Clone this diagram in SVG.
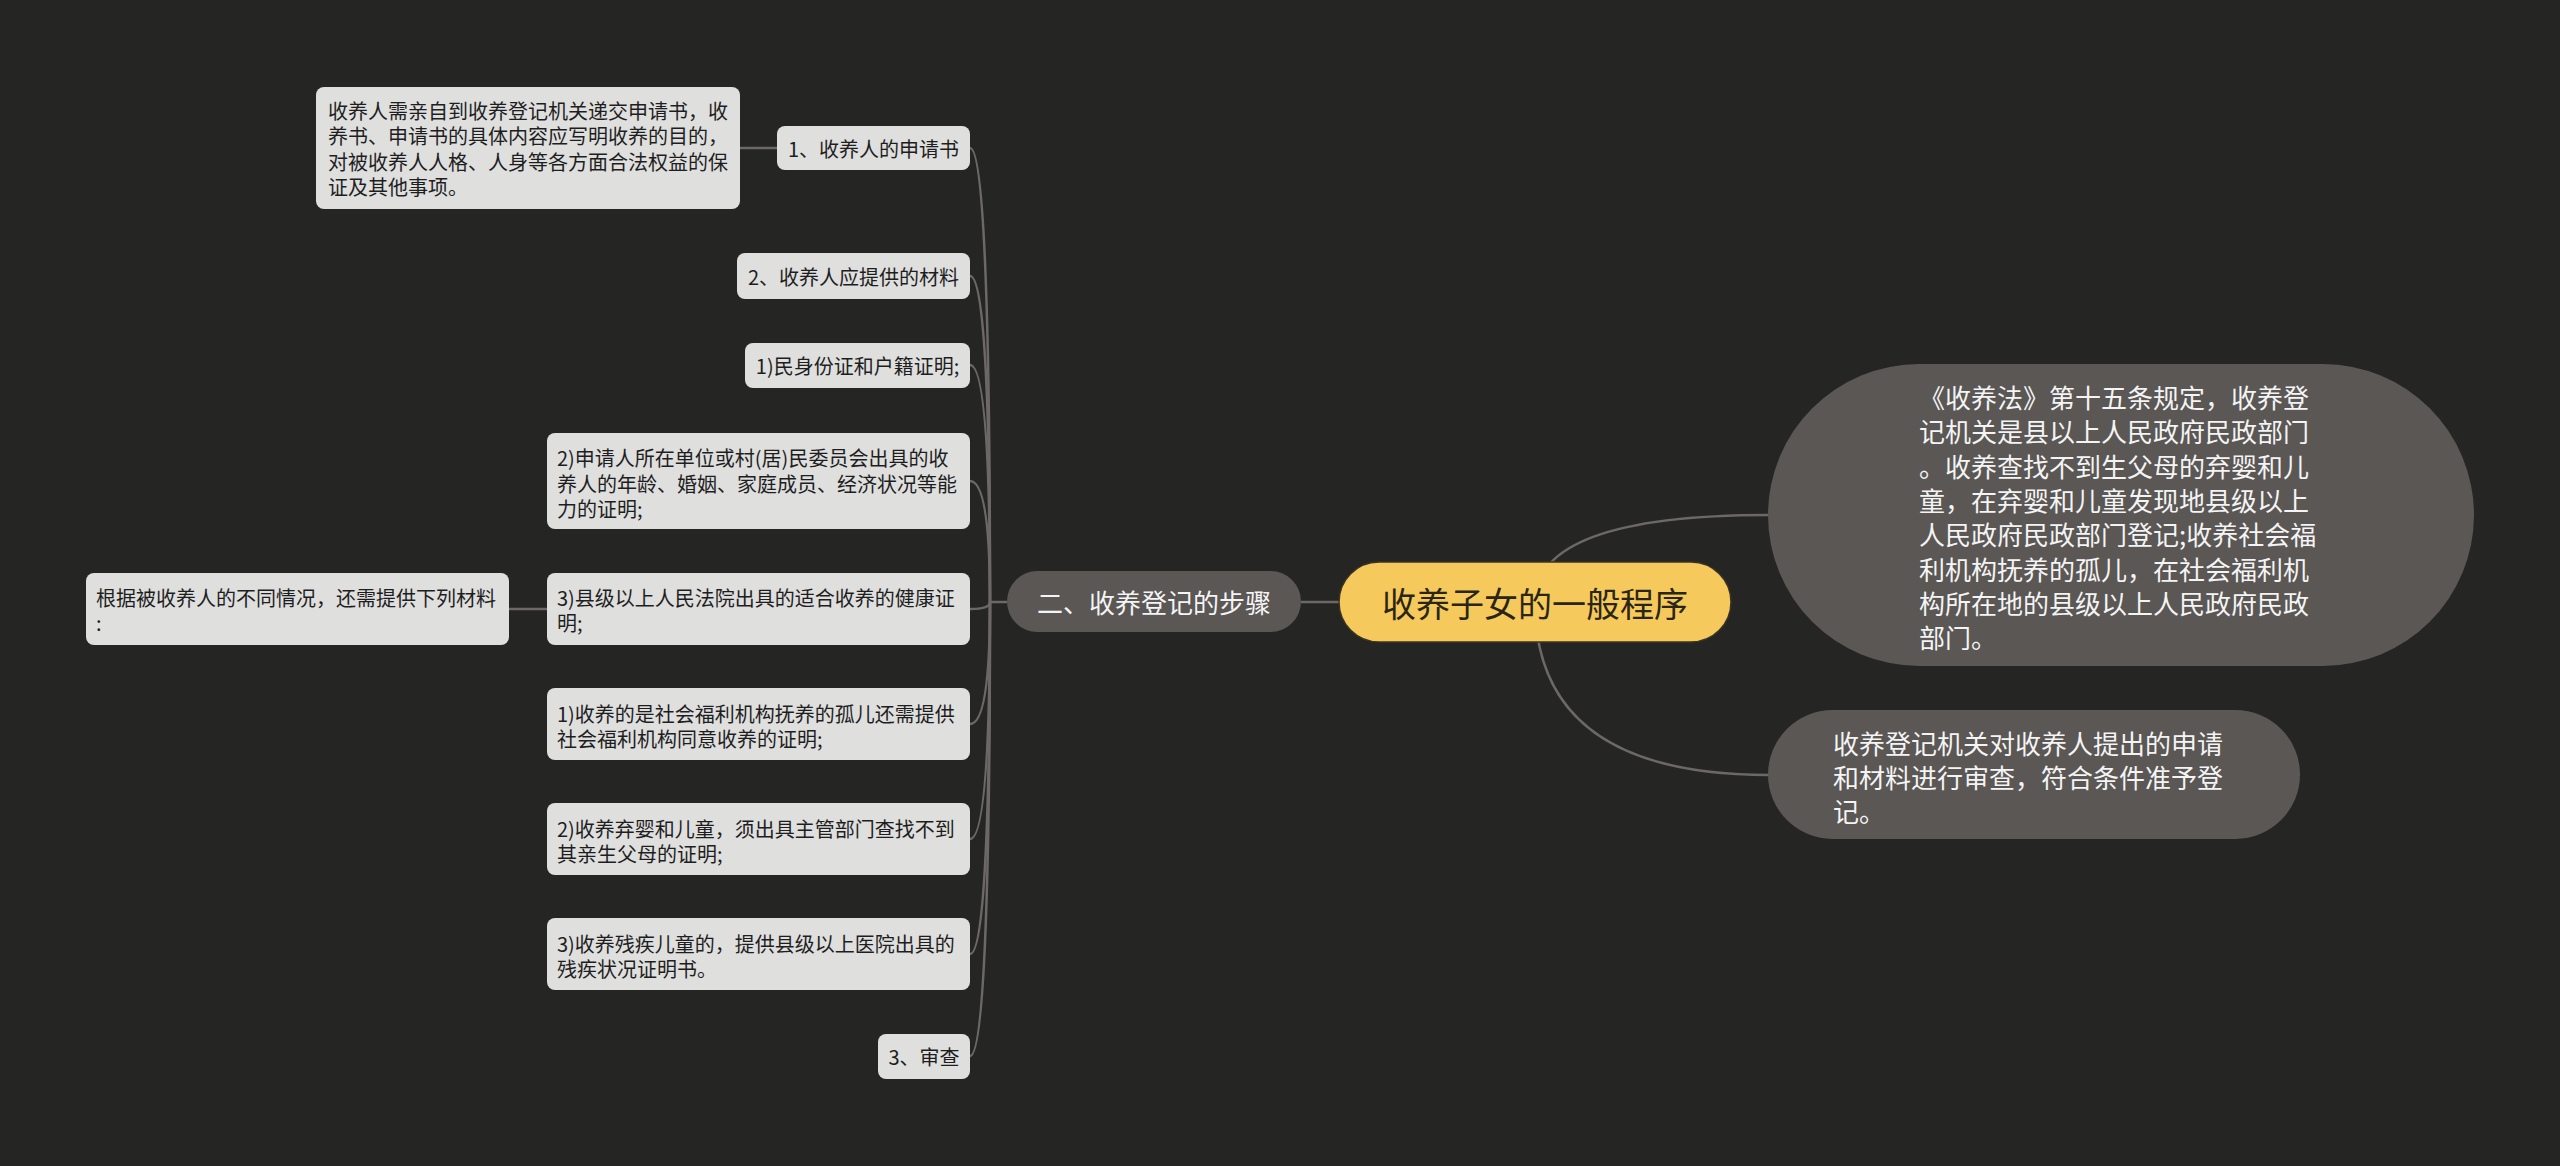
<svg xmlns="http://www.w3.org/2000/svg" width="2560" height="1166" viewBox="0 0 2560 1166">
<style>
text{font-family:"Noto Sans CJK SC","Noto Sans",sans-serif;dominant-baseline:central}
.light{fill:#dfdfde}
.lt{font-size:20px;fill:#1e1e1e}
.dark{fill:#5a5755}
.dt{font-size:26px;fill:#f4f4f4}
.ct{font-size:34px;fill:#2a2515}
.mid{text-anchor:middle}
.conn path{stroke:#6b6865;stroke-width:2.5;fill:none}
</style>
<rect x="0" y="0" width="2560" height="1166" fill="#252524"/>
<g class="conn" id="connectors">
<path d="M1339 602 L1301 602"/>
<path d="M1535 602 Q1535 515 1769 515"/>
<path d="M1535 602 Q1535 775 1769 775"/>
<path d="M1007 602 L990 602"/>
<path d="M990 602 Q990 148 970 148"/>
<path d="M990 602 Q990 276 970 276"/>
<path d="M990 602 Q990 365 970 365"/>
<path d="M990 602 Q990 481 970 481"/>
<path d="M990 602 Q990 609 970 609"/>
<path d="M990 602 Q990 724 970 724"/>
<path d="M990 602 Q990 839 970 839"/>
<path d="M990 602 Q990 954 970 954"/>
<path d="M990 602 Q990 1056 970 1056"/>
<path d="M777 148 L740 148"/>
<path d="M547 609 L509 609"/>
</g>
<g id="root">
<rect x="1339" y="562" width="392" height="80" rx="40" fill="#f5c95b" stroke="#3a3426" stroke-width="1.5"/>
<text class="ct mid" x="1535" y="602">收养子女的一般程序</text>
</g>
<g id="r1">
<rect class="dark" x="1768" y="364" width="706" height="302" rx="151"/>
<text class="dt" x="1919"><tspan x="1919" y="396">《收养法》第十五条规定，收养登</tspan><tspan x="1919" y="430.3">记机关是县以上人民政府民政部门</tspan><tspan x="1919" y="464.6">。收养查找不到生父母的弃婴和儿</tspan><tspan x="1919" y="498.9">童，在弃婴和儿童发现地县级以上</tspan><tspan x="1919" y="533.2">人民政府民政部门登记;收养社会福</tspan><tspan x="1919" y="567.5">利机构抚养的孤儿，在社会福利机</tspan><tspan x="1919" y="601.8">构所在地的县级以上人民政府民政</tspan><tspan x="1919" y="636.1">部门。</tspan></text>
</g>
<g id="r2">
<rect class="dark" x="1768" y="710" width="532" height="129" rx="64.5"/>
<text class="dt" x="1833"><tspan x="1833" y="742">收养登记机关对收养人提出的申请</tspan><tspan x="1833" y="776">和材料进行审查，符合条件准予登</tspan><tspan x="1833" y="810">记。</tspan></text>
</g>
<g id="l1">
<rect class="dark" x="1007" y="571" width="294" height="61" rx="30.5"/>
<text class="dt mid" x="1154" y="601.5">二、收养登记的步骤</text>
</g>
<g id="n1">
<rect class="light" x="777" y="126" width="193" height="44" rx="8"/>
<text class="lt mid" x="873.5" y="148">1、收养人的申请书</text>
</g>
<g id="n1a">
<rect class="light" x="316" y="87" width="424" height="122" rx="8"/>
<text class="lt" x="328"><tspan x="328" y="109.75">收养人需亲自到收养登记机关递交申请书，收</tspan><tspan x="328" y="135.25">养书、申请书的具体内容应写明收养的目的，</tspan><tspan x="328" y="160.75">对被收养人人格、人身等各方面合法权益的保</tspan><tspan x="328" y="186.25">证及其他事项。</tspan></text>
</g>
<g id="n2">
<rect class="light" x="737" y="253" width="233" height="46" rx="8"/>
<text class="lt mid" x="853.5" y="276">2、收养人应提供的材料</text>
</g>
<g id="n3">
<rect class="light" x="745" y="343" width="225" height="45" rx="8"/>
<text class="lt mid" x="857.5" y="365.5">1)民身份证和户籍证明;</text>
</g>
<g id="n4">
<rect class="light" x="547" y="433" width="423" height="96" rx="8"/>
<text class="lt" x="557"><tspan x="557" y="457">2)申请人所在单位或村(居)民委员会出具的收</tspan><tspan x="557" y="482.5">养人的年龄、婚姻、家庭成员、经济状况等能</tspan><tspan x="557" y="508">力的证明;</tspan></text>
</g>
<g id="n5">
<rect class="light" x="547" y="573" width="423" height="72" rx="8"/>
<text class="lt" x="557"><tspan x="557" y="596.5">3)县级以上人民法院出具的适合收养的健康证</tspan><tspan x="557" y="622">明;</tspan></text>
</g>
<g id="n5a">
<rect class="light" x="86" y="573" width="423" height="72" rx="8"/>
<text class="lt" x="96"><tspan x="96" y="596.5">根据被收养人的不同情况，还需提供下列材料</tspan><tspan x="96" y="622">:</tspan></text>
</g>
<g id="n6">
<rect class="light" x="547" y="688" width="423" height="72" rx="8"/>
<text class="lt" x="557"><tspan x="557" y="712.5">1)收养的是社会福利机构抚养的孤儿还需提供</tspan><tspan x="557" y="738">社会福利机构同意收养的证明;</tspan></text>
</g>
<g id="n7">
<rect class="light" x="547" y="803" width="423" height="72" rx="8"/>
<text class="lt" x="557"><tspan x="557" y="827.5">2)收养弃婴和儿童，须出具主管部门查找不到</tspan><tspan x="557" y="853">其亲生父母的证明;</tspan></text>
</g>
<g id="n8">
<rect class="light" x="547" y="918" width="423" height="72" rx="8"/>
<text class="lt" x="557"><tspan x="557" y="942.5">3)收养残疾儿童的，提供县级以上医院出具的</tspan><tspan x="557" y="968">残疾状况证明书。</tspan></text>
</g>
<g id="n9">
<rect class="light" x="878" y="1034" width="92" height="45" rx="8"/>
<text class="lt mid" x="924" y="1056.5">3、审查</text>
</g>
</svg>
